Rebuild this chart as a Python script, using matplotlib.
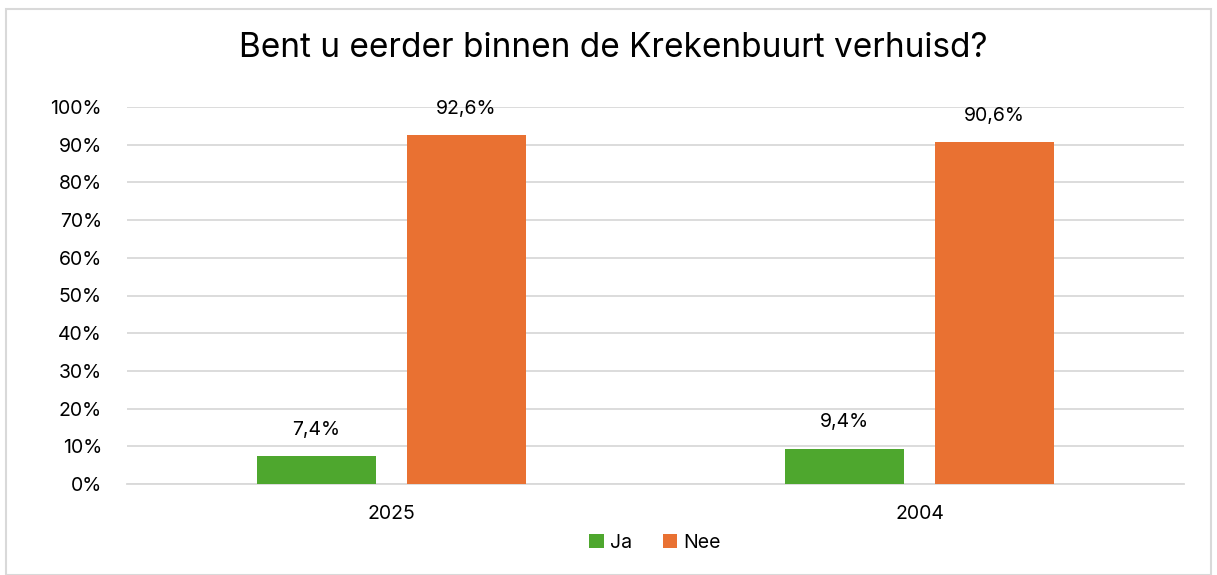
import matplotlib.pyplot as plt
from matplotlib.patches import Rectangle

plt.rcParams['font.family'] = ['Inter', 'DejaVu Sans']

years = ['2025', '2004']
ja = [7.4, 9.4]
nee = [92.6, 90.6]
series_names = ['Ja', 'Nee']
colors = ['#4EA72E', '#E97132']

fig = plt.figure(figsize=(12.17, 5.75), dpi=100)
ax = fig.add_axes([127 / 1217, 1 - 484 / 575, 1057 / 1217, 377 / 575])

x = list(range(len(years)))
width = 0.225
offset = 0.142
b1 = ax.bar([i - offset for i in x], ja, width, color=colors[0], label=series_names[0], zorder=3)
b2 = ax.bar([i + offset for i in x], nee, width, color=colors[1], label=series_names[1], zorder=3)

for bars, vals in [(b1, ja), (b2, nee)]:
    for bar, v in zip(bars, vals):
        ax.text(bar.get_x() + bar.get_width() / 2, v + 7.0, f'{v:.1f}%'.replace('.', ','),
                ha='center', va='center', fontsize=14, color='#000000')

ax.set_xlim(-0.5, 1.5)
ax.set_ylim(0, 100)
ax.set_yticks(range(0, 101, 10))
ax.set_yticklabels([f'{t}%' for t in range(0, 101, 10)], fontsize=14)
ax.set_xticks(x)
ax.set_xticklabels(years, fontsize=14)
ax.tick_params(axis='y', length=0, pad=18)
ax.tick_params(axis='x', length=0, pad=15)
ax.yaxis.grid(True, color='#D9D9D9', linewidth=1.3, zorder=0)
ax.set_axisbelow(True)
for s in ['top', 'right', 'left']:
    ax.spines[s].set_visible(False)
ax.spines['bottom'].set_color('#D9D9D9')
ax.spines['bottom'].set_linewidth(1.3)

fig.text(0.5 + 5 / 1217, 1 - 48 / 575, 'Bent u eerder binnen de Krekenbuurt verhuisd?',
         ha='center', va='center', fontsize=24, color='#000000')

fig.legend(loc='center', bbox_to_anchor=(655 / 1217, 1 - 543 / 575), ncol=2, frameon=False,
           fontsize=14, handlelength=0.75, handleheight=0.75, handletextpad=0.3, columnspacing=1.6)

fig.patches.append(Rectangle((6 / 1217, 0), 1 - 12 / 1217, 1 - 9 / 575, transform=fig.transFigure,
                             fill=False, edgecolor='#D9D9D9', linewidth=1.5))

fig.savefig('out.png', dpi=100)
